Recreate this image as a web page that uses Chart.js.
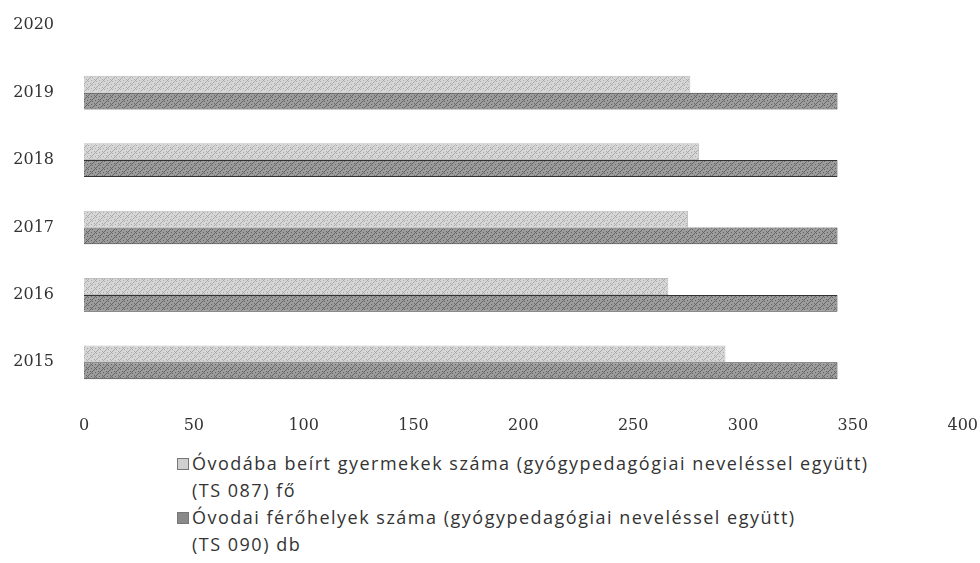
<!DOCTYPE html>
<html lang="hu">
<head>
<meta charset="UTF-8">
<title>Óvodai férőhelyek</title>
<script src="https://cdn.jsdelivr.net/npm/chart.js"></script>
<style>
    body { margin: 0; background: #fff; width: 980px; height: 563px; overflow: hidden; position: relative; }
    #wrap { position: absolute; left: 0; top: -40px; width: 990px; height: 480px; }
    #legend { position: absolute; left: 177px; top: 450px; font-family: "Open Sans", sans-serif; font-size: 18px; letter-spacing: 1.5px; color: #333; line-height: 27px; }
    #legend .item { display: flex; align-items: flex-start; }
    #legend .box { width: 12px; height: 12px; margin: 8px 3px 0 0; flex: none; border: 1px solid #777; box-sizing: border-box; }
    #legend .txt { width: 790px; }
</style>
</head>
<body>
<div id="wrap"><canvas id="chart"></canvas></div>
<div id="legend"></div>
<script>
    const years = ['2020', '2019', '2018', '2017', '2016', '2015'];
    const enrolled = [null, 276, 280, 275, 266, 292];
    const places = [null, 343, 343, 343, 343, 343];
    const xTicks = [0, 50, 100, 150, 200, 250, 300, 350, 400];
    const seriesNames = [
        ['Óvodába beírt gyermekek száma (gyógypedagógiai neveléssel együtt)', '(TS 087) fő'],
        ['Óvodai férőhelyek száma (gyógypedagógiai neveléssel együtt)', '(TS 090) db']
    ];

    // grainy fill like the scanned original
    function makePattern(base, dark) {
        const c = document.createElement('canvas');
        c.width = 8; c.height = 8;
        const g = c.getContext('2d');
        g.fillStyle = base;
        g.fillRect(0, 0, 8, 8);
        g.fillStyle = dark;
        for (let i = 0; i < 8; i++) {
            g.fillRect(i, (7 - i), 1, 1);
            g.fillRect((i + 3) % 8, (i * 5) % 8, 1, 1);
        }
        return g.createPattern(c, 'repeat');
    }
    const lightFill = makePattern('#d6d6d6', '#ababab');
    const darkFill = makePattern('#9c9c9c', '#666');

    const tickFont = { family: '"DejaVu Serif", serif', size: 16 };

    new Chart(document.getElementById('chart'), {
        type: 'bar',
        data: {
            labels: years,
            datasets: [{
                label: seriesNames[0].join(' '),
                data: enrolled,
                backgroundColor: lightFill,
                borderColor: '#bdbdbd',
                borderWidth: 1,
                categoryPercentage: 0.5,
                barPercentage: 1
            }, {
                label: seriesNames[1].join(' '),
                data: places,
                backgroundColor: darkFill,
                borderColor: '#333',
                borderWidth: 1,
                categoryPercentage: 0.5,
                barPercentage: 1
            }]
        },
        options: {
            indexAxis: 'y',
            responsive: true,
            maintainAspectRatio: false,
            animation: false,
            layout: { padding: 0 },
            plugins: { legend: { display: false }, tooltip: { enabled: false } },
            scales: {
                x: {
                    min: 0, max: 400,
                    afterBuildTicks: s => { s.ticks = xTicks.map(v => ({ value: v })); },
                    grid: { display: false },
                    border: { display: false },
                    ticks: { font: tickFont, color: '#333', padding: 12 },
                    afterFit: s => { s.height = 44; }
                },
                y: {
                    grid: { display: false },
                    border: { display: false },
                    ticks: { font: tickFont, color: '#333', padding: 22 },
                    afterFit: s => { s.width = 84; }
                }
            }
        }
    });

    const legend = document.getElementById('legend');
    const fills = ['#d0d0d0', '#8a8a8a'];
    seriesNames.forEach((lines, i) => {
        const row = document.createElement('div');
        row.className = 'item';
        row.innerHTML = '<span class="box" style="background:' + fills[i] + '"></span><span class="txt">' + lines.join('<br>') + '</span>';
        legend.appendChild(row);
    });
</script>
</body>
</html>
